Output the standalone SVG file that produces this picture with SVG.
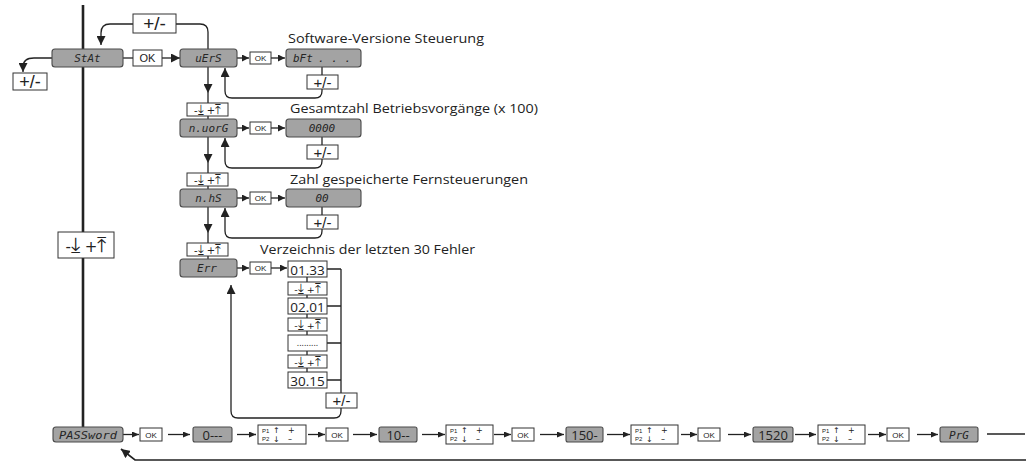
<svg xmlns="http://www.w3.org/2000/svg" width="1026" height="464" viewBox="0 0 1026 464">
<style>
.g{fill:#a3a3a3;stroke:#4a4a4a;stroke-width:1.1}
.w{fill:#fff;stroke:#333;stroke-width:1}
.ln{fill:none;stroke:#222;stroke-width:1.3}
.thick{fill:none;stroke:#222;stroke-width:2.6}
.seg{font-family:"DejaVu Sans Mono",monospace;font-style:italic;font-size:11px;fill:#262626}
.lbl{font-family:"Open Sans","Liberation Sans",sans-serif;font-size:13.5px;fill:#222}
.ok{font-family:"Liberation Sans",Arial,sans-serif;fill:#222}
.sym{font-family:"DejaVu Sans",sans-serif;fill:#222}
.num{font-family:"Open Sans","Liberation Sans",sans-serif;fill:#222}
.pm{font-family:"Liberation Sans",Arial,sans-serif;fill:#222;text-anchor:middle}
.mid{text-anchor:middle}
.ar{font-size:13px}
</style>
<defs>
<marker id="ab" markerUnits="userSpaceOnUse" viewBox="0 0 9 9" markerWidth="9" markerHeight="9" refX="9" refY="4.5" orient="auto"><path d="M0,0 L9,4.5 L0,9 z" fill="#222"/></marker>
<marker id="am" markerUnits="userSpaceOnUse" viewBox="0 0 7 7" markerWidth="7" markerHeight="7" refX="7" refY="3.5" orient="auto"><path d="M0,0 L7,3.5 L0,7 z" fill="#222"/></marker>
<marker id="as" markerUnits="userSpaceOnUse" viewBox="0 0 7 6" markerWidth="7" markerHeight="6" refX="7" refY="3" orient="auto"><path d="M0,0 L7,3 L0,6 z" fill="#222"/></marker>
</defs>
<rect width="1026" height="464" fill="#fff"/>

<g id="connectors">
<path class="thick" d="M83,5 V427"/>
<path class="ln" d="M208,49 V32 Q208,24 200,24 H176"/>
<path class="ln" d="M133,24 H110 Q101,24 101,33 V45" marker-end="url(#ab)"/>
<path class="ln" d="M52,58 H34 Q23,58 23,67 V72" marker-end="url(#ab)"/>
<path class="ln" d="M123,58 H133"/>
<path class="ln" d="M162,58 H180" marker-end="url(#ab)"/>

<path class="ln" d="M237,58 H249" marker-end="url(#am)"/>
<path class="ln" d="M271,58 H285" marker-end="url(#am)"/>
<path class="ln" d="M322,67 V75"/>
<path class="ln" d="M322,89 V91 Q322,98 315,98 H232 Q225,98 225,91 V68" marker-end="url(#ab)"/>
<path class="ln" d="M208,67 V93" marker-end="url(#ab)"/>
<path class="ln" d="M208,93 V103 M208,116 V119"/>

<path class="ln" d="M237,128 H249" marker-end="url(#am)"/>
<path class="ln" d="M271,128 H285" marker-end="url(#am)"/>
<path class="ln" d="M322,137 V145"/>
<path class="ln" d="M322,159 V161 Q322,168 315,168 H232 Q225,168 225,161 V138" marker-end="url(#ab)"/>
<path class="ln" d="M208,137 V163" marker-end="url(#ab)"/>
<path class="ln" d="M208,163 V173 M208,186 V189"/>

<path class="ln" d="M237,198 H249" marker-end="url(#am)"/>
<path class="ln" d="M271,198 H285" marker-end="url(#am)"/>
<path class="ln" d="M322,207 V215"/>
<path class="ln" d="M322,229 V231 Q322,238 315,238 H232 Q225,238 225,231 V208" marker-end="url(#ab)"/>
<path class="ln" d="M208,207 V233" marker-end="url(#ab)"/>
<path class="ln" d="M208,233 V243 M208,256 V259"/>

<path class="ln" d="M237,268 H249" marker-end="url(#am)"/>
<path class="ln" d="M271,268 H287" marker-end="url(#am)"/>
<path class="ln" d="M307,277 V282 M307,295 V298 M307,314 V318 M307,331 V335 M307,351 V355 M307,368 V372"/>
<path class="ln" d="M327,269 H341 M327,306 H341 M327,343 H341 M327,380 H341 M341,269 V393"/>
<path class="ln" d="M341,408 V411 Q341,418 334,418 H238 Q231,418 231,411 V285" marker-end="url(#ab)"/>

<path class="ln" d="M123,434.5 H139" marker-end="url(#as)"/>
<path class="ln" d="M168,434.5 H190" marker-end="url(#as)"/>
<path class="ln" d="M237,434.5 H256" marker-end="url(#as)"/>
<path class="ln" d="M308,434.5 H325" marker-end="url(#as)"/>
<path class="ln" d="M353,434.5 H377" marker-end="url(#as)"/>
<path class="ln" d="M422,434.5 H445" marker-end="url(#as)"/>
<path class="ln" d="M494,434.5 H511" marker-end="url(#as)"/>
<path class="ln" d="M540,434.5 H564" marker-end="url(#as)"/>
<path class="ln" d="M607,434.5 H630" marker-end="url(#as)"/>
<path class="ln" d="M681,434.5 H697" marker-end="url(#as)"/>
<path class="ln" d="M728,434.5 H751" marker-end="url(#as)"/>
<path class="ln" d="M795,434.5 H816" marker-end="url(#as)"/>
<path class="ln" d="M868,434.5 H886" marker-end="url(#as)"/>
<path class="ln" d="M917,434.5 H938" marker-end="url(#as)"/>
<path class="ln" d="M987,434 H1025"/>
<path fill="none" stroke="#222" stroke-width="1.7" d="M1026,460 H135 L121,449" marker-end="url(#ab)"/>
</g>

<g id="pm-top"><rect class="w" x="133" y="14" width="43" height="19"/><text class="pm" x="154.5" y="30" font-size="19">+/-</text></g>
<g id="pm-left"><rect class="w" x="13" y="73" width="34" height="17"/><text class="pm" x="30" y="88" font-size="18">+/-</text></g>
<g id="n-stat"><rect class="g" x="52" y="49" width="71" height="18" rx="3"/><text class="seg mid" x="87.5" y="62">StAt</text></g>
<g id="ok-stat"><rect class="w" x="133" y="50" width="29" height="16"/><text class="ok mid" x="147.5" y="62" font-size="11">OK</text></g>
<g id="frame-main"><rect class="w" x="58" y="232" width="56" height="26"/><text class="sym mid" x="86" y="252" font-size="15">-<tspan font-size="21">⤓</tspan> +<tspan font-size="21">⤒</tspan></text></g>

<g id="n-uers"><rect class="g" x="180" y="49" width="57" height="18" rx="3"/><text class="seg mid" x="208.5" y="62">uErS</text></g>
<g id="ok-uers"><rect class="w" x="250" y="52" width="21" height="12"/><text class="ok mid" x="260.5" y="61" font-size="8">OK</text></g>
<g id="v-bft"><rect class="g" x="286" y="49" width="75" height="18" rx="3"/><text class="seg" y="62"><tspan x="293">bFt</tspan><tspan x="318">. . .</tspan></text></g>
<g id="pm-uers"><rect class="w" x="307" y="75" width="31" height="14"/><text class="pm" x="322.5" y="87.5" font-size="15">+/-</text></g>
<text class="lbl" x="288" y="43" textLength="196" lengthAdjust="spacingAndGlyphs">Software-Versione Steuerung</text>
<g id="fr-1"><rect class="w" x="187" y="103" width="41" height="13"/><text class="sym mid" x="207.5" y="114" font-size="10">-<tspan class="ar">⤓</tspan> +<tspan class="ar">⤒</tspan></text></g>

<g id="n-nworg"><rect class="g" x="180" y="119" width="57" height="18" rx="3"/><text class="seg mid" x="208.5" y="132">n.uorG</text></g>
<g id="ok-nworg"><rect class="w" x="250" y="122" width="21" height="12"/><text class="ok mid" x="260.5" y="131" font-size="8">OK</text></g>
<g id="v-0000"><rect class="g" x="286" y="119" width="75" height="18" rx="3"/><text class="seg mid" x="322" y="132">0000</text></g>
<g id="pm-nworg"><rect class="w" x="307" y="145" width="31" height="14"/><text class="pm" x="322.5" y="157.5" font-size="15">+/-</text></g>
<text class="lbl" x="290" y="113" textLength="248" lengthAdjust="spacingAndGlyphs">Gesamtzahl Betriebsvorgänge (x 100)</text>
<g id="fr-2"><rect class="w" x="187" y="173" width="41" height="13"/><text class="sym mid" x="207.5" y="184" font-size="10">-<tspan class="ar">⤓</tspan> +<tspan class="ar">⤒</tspan></text></g>

<g id="n-nhs"><rect class="g" x="180" y="189" width="57" height="18" rx="3"/><text class="seg mid" x="208.5" y="202">n.hS</text></g>
<g id="ok-nhs"><rect class="w" x="250" y="192" width="21" height="12"/><text class="ok mid" x="260.5" y="201" font-size="8">OK</text></g>
<g id="v-00"><rect class="g" x="286" y="189" width="75" height="18" rx="3"/><text class="seg mid" x="322" y="202">00</text></g>
<g id="pm-nhs"><rect class="w" x="307" y="215" width="31" height="14"/><text class="pm" x="322.5" y="227.5" font-size="15">+/-</text></g>
<text class="lbl" x="290" y="184" textLength="238" lengthAdjust="spacingAndGlyphs">Zahl gespeicherte Fernsteuerungen</text>
<g id="fr-3"><rect class="w" x="187" y="243" width="41" height="13"/><text class="sym mid" x="207.5" y="254" font-size="10">-<tspan class="ar">⤓</tspan> +<tspan class="ar">⤒</tspan></text></g>

<g id="n-err"><rect class="g" x="180" y="259" width="57" height="18" rx="3"/><text class="seg mid" x="207" y="272">Err</text></g>
<g id="ok-err"><rect class="w" x="250" y="262" width="21" height="12"/><text class="ok mid" x="260.5" y="271" font-size="8">OK</text></g>
<text class="lbl" x="260" y="254" textLength="215" lengthAdjust="spacingAndGlyphs">Verzeichnis der letzten 30 Fehler</text>
<g id="e-0133"><rect class="w" x="288" y="261" width="39" height="16"/><text class="num mid" x="307.5" y="274.5" font-size="13.5">01.33</text></g>
<g id="e-fr1"><rect class="w" x="288" y="282" width="39" height="13"/><text class="sym mid" x="307.5" y="293" font-size="9.5">-<tspan class="ar">⤓</tspan> +<tspan class="ar">⤒</tspan></text></g>
<g id="e-0201"><rect class="w" x="288" y="298" width="39" height="16"/><text class="num mid" x="307.5" y="311.5" font-size="13.5">02.01</text></g>
<g id="e-fr2"><rect class="w" x="288" y="318" width="39" height="13"/><text class="sym mid" x="307.5" y="329" font-size="9.5">-<tspan class="ar">⤓</tspan> +<tspan class="ar">⤒</tspan></text></g>
<g id="e-dots"><rect class="w" x="288" y="335" width="39" height="16"/><text class="num mid" x="307.5" y="346" font-size="9">.........</text></g>
<g id="e-fr3"><rect class="w" x="288" y="355" width="39" height="13"/><text class="sym mid" x="307.5" y="366" font-size="9.5">-<tspan class="ar">⤓</tspan> +<tspan class="ar">⤒</tspan></text></g>
<g id="e-3015"><rect class="w" x="288" y="372" width="39" height="16"/><text class="num mid" x="307.5" y="385.5" font-size="13.5">30.15</text></g>
<g id="pm-err"><rect class="w" x="326" y="393" width="31" height="15"/><text class="pm" x="341.5" y="406" font-size="15">+/-</text></g>

<g id="n-password"><rect class="g" x="53" y="427" width="70" height="15" rx="3"/><text class="seg mid" x="88" y="439" textLength="58" lengthAdjust="spacingAndGlyphs">PASSword</text></g>
<g id="b-ok1"><rect class="w" x="140" y="428" width="22" height="13"/><text class="ok mid" x="151" y="437.5" font-size="8">OK</text></g>
<g id="b-0"><rect class="g" x="193" y="427" width="39" height="15" rx="2"/><text class="num mid" x="212.5" y="439.5" font-size="13" fill="#333">0---</text></g>
<g id="b-p1"><rect class="w" x="258" y="425" width="48" height="19"/><text class="ok" font-size="6"><tspan x="262" y="432.5">P1</tspan><tspan x="262" y="441">P2</tspan></text><text class="sym" font-size="8"><tspan x="273" y="433">↑</tspan><tspan x="273" y="441.5">↓</tspan><tspan x="288" y="433">+</tspan><tspan x="288" y="441.5">–</tspan></text></g>
<g id="b-ok2"><rect class="w" x="326" y="428" width="22" height="13"/><text class="ok mid" x="337" y="437.5" font-size="8">OK</text></g>
<g id="b-10"><rect class="g" x="379" y="427" width="38" height="15" rx="2"/><text class="num mid" x="398" y="439.5" font-size="13" fill="#333">10--</text></g>
<g id="b-p2"><rect class="w" x="446" y="425" width="47" height="19"/><text class="ok" font-size="6"><tspan x="450" y="432.5">P1</tspan><tspan x="450" y="441">P2</tspan></text><text class="sym" font-size="8"><tspan x="461" y="433">↑</tspan><tspan x="461" y="441.5">↓</tspan><tspan x="476" y="433">+</tspan><tspan x="476" y="441.5">–</tspan></text></g>
<g id="b-ok3"><rect class="w" x="512" y="428" width="22" height="13"/><text class="ok mid" x="523" y="437.5" font-size="8">OK</text></g>
<g id="b-150"><rect class="g" x="566" y="427" width="37" height="15" rx="2"/><text class="num mid" x="584.5" y="439.5" font-size="13" fill="#333">150-</text></g>
<g id="b-p3"><rect class="w" x="631" y="425" width="47" height="19"/><text class="ok" font-size="6"><tspan x="635" y="432.5">P1</tspan><tspan x="635" y="441">P2</tspan></text><text class="sym" font-size="8"><tspan x="646" y="433">↑</tspan><tspan x="646" y="441.5">↓</tspan><tspan x="661" y="433">+</tspan><tspan x="661" y="441.5">–</tspan></text></g>
<g id="b-ok4"><rect class="w" x="698" y="428" width="22" height="13"/><text class="ok mid" x="709" y="437.5" font-size="8">OK</text></g>
<g id="b-1520"><rect class="g" x="753" y="427" width="40" height="15" rx="2"/><text class="num mid" x="773" y="439.5" font-size="13" fill="#333">1520</text></g>
<g id="b-p4"><rect class="w" x="818" y="425" width="47" height="19"/><text class="ok" font-size="6"><tspan x="822" y="432.5">P1</tspan><tspan x="822" y="441">P2</tspan></text><text class="sym" font-size="8"><tspan x="833" y="433">↑</tspan><tspan x="833" y="441.5">↓</tspan><tspan x="848" y="433">+</tspan><tspan x="848" y="441.5">–</tspan></text></g>
<g id="b-ok5"><rect class="w" x="887" y="428" width="22" height="13"/><text class="ok mid" x="898" y="437.5" font-size="8">OK</text></g>
<g id="n-prg"><rect class="g" x="940" y="427" width="38" height="15" rx="2"/><text class="seg mid" x="959" y="439">PrG</text></g>
</svg>
